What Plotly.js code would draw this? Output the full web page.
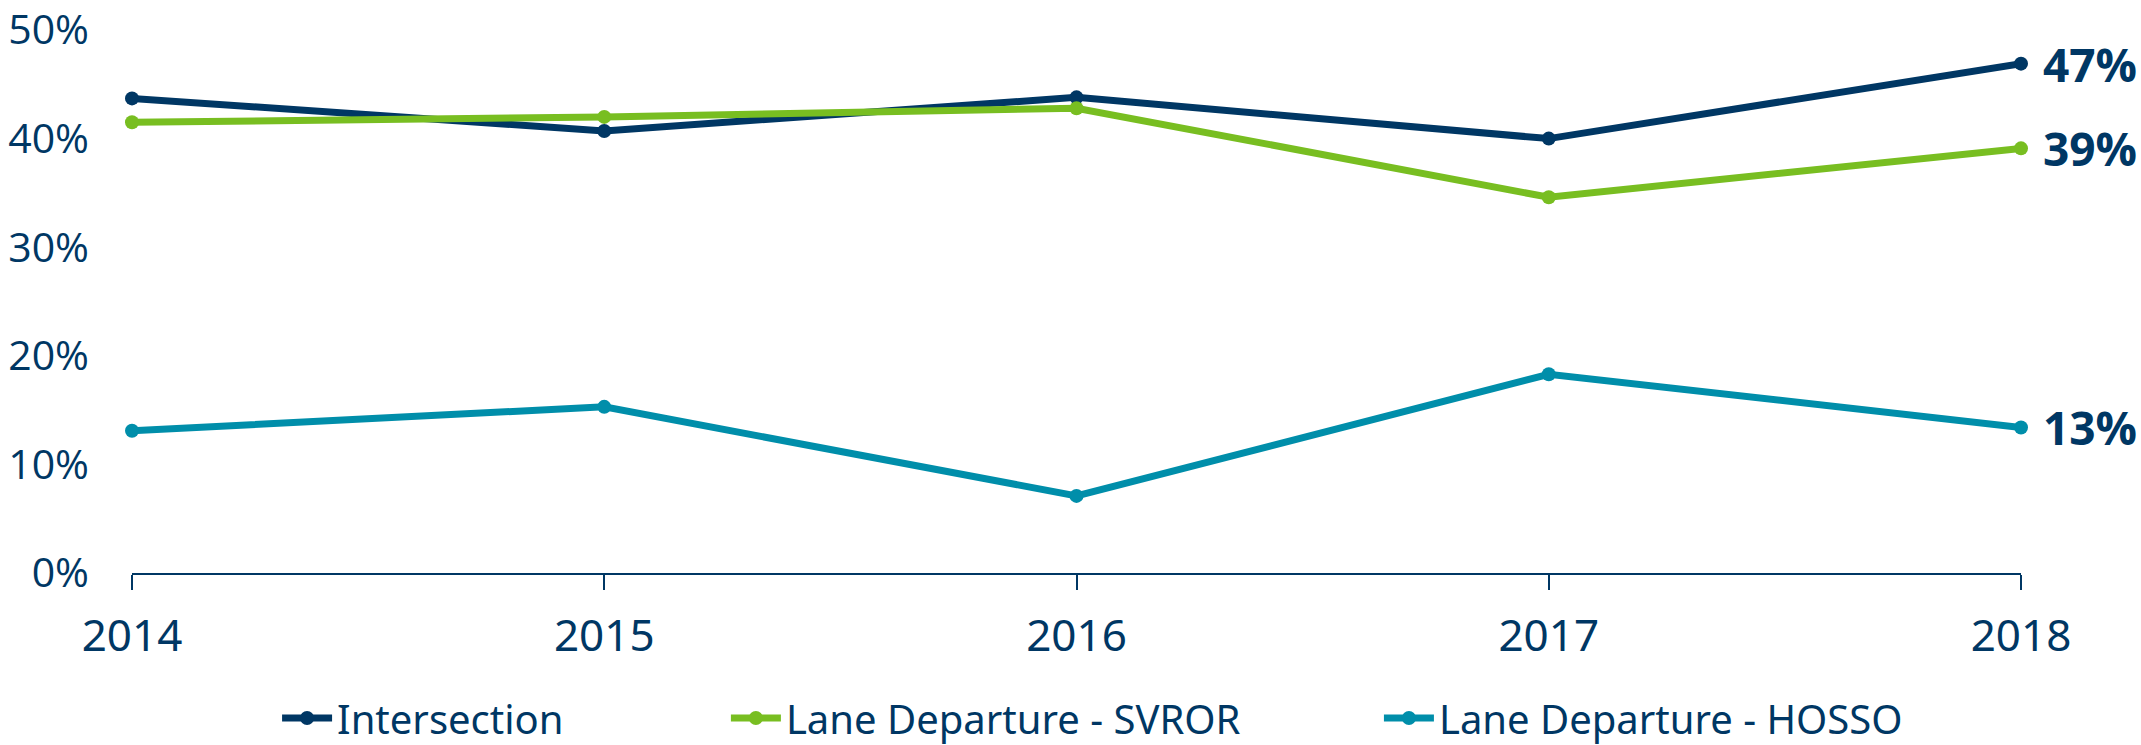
<!DOCTYPE html>
<html>
<head>
<meta charset="utf-8">
<script src="https://cdn.plot.ly/plotly-3.0.1.min.js"></script>
<style>
html,body{margin:0;padding:0;background:#fff;}
#chart{width:2141px;height:745px;}
</style>
</head>
<body>
<div id="chart"></div>
<script>
const years = [2014, 2015, 2016, 2017, 2018];
const seriesNames = ["Intersection", "Lane Departure - SVROR", "Lane Departure - HOSSO"];
const intersection = [43.7, 40.7, 43.8, 40.0, 46.9];
const svror = [41.5, 42.0, 42.8, 34.6, 39.1];
const hosso = [13.1, 15.3, 7.1, 18.3, 13.4];
const yTicks = [0, 10, 20, 30, 40, 50];

const navy = "#003764";
const colors = [navy, "#78BE21", "#008EAA"];
const allSeries = [intersection, svror, hosso];
const legendIds = ["legend", "legend2", "legend3"];
const sans = "'Noto Sans', sans-serif";

const traces = allSeries.map((vals, i) => ({
  x: years,
  y: vals,
  name: seriesNames[i],
  type: "scatter",
  mode: "lines+markers",
  line: {color: colors[i], width: 7},
  marker: {color: colors[i], size: 14},
  legend: legendIds[i],
  cliponaxis: false,
  hoverinfo: "x+y"
}));

const annotations = allSeries.map((vals, i) => ({
  x: years[years.length - 1],
  y: vals[vals.length - 1],
  xref: "x", yref: "y",
  text: "<b>" + Math.round(vals[vals.length - 1]) + "%</b>",
  showarrow: false,
  xanchor: "left",
  yanchor: "middle",
  xshift: 20,
  font: {family: "'Open Sans', sans-serif", size: 46, color: navy}
}));

const legendFont = {family: sans, size: 40, color: navy};
const legendX = [0.0768, 0.3144, 0.6601];
const mkLegend = (x) => ({
  orientation: "h",
  x: x, xref: "paper", xanchor: "left",
  y: 1 - 718 / 745, yref: "container", yanchor: "middle",
  font: legendFont,
  bgcolor: "rgba(0,0,0,0)",
  itemwidth: 50
});

const layout = {
  width: 2141,
  height: 745,
  margin: {l: 132, r: 120, t: 30, b: 171.5},
  paper_bgcolor: "#ffffff",
  plot_bgcolor: "#ffffff",
  showlegend: true,
  xaxis: {
    type: "linear",
    range: [2014, 2018],
    tickvals: years,
    ticktext: years.map(String),
    showgrid: false,
    zeroline: false,
    showline: true,
    linecolor: navy,
    linewidth: 2,
    ticks: "outside",
    ticklen: 15,
    tickwidth: 2,
    tickcolor: navy,
    ticklabelstandoff: 8,
    tickfont: {family: sans, size: 44, color: navy},
    fixedrange: true
  },
  yaxis: {
    range: [0, 50],
    tickvals: yTicks,
    ticktext: yTicks.map(v => v + "%"),
    showgrid: false,
    zeroline: false,
    showline: false,
    ticks: "",
    ticklabelstandoff: 42,
    ticklabeloverflow: "allow",
    tickfont: {family: "'Open Sans', sans-serif", size: 41, color: navy},
    fixedrange: true
  },
  annotations: annotations,
  legend: mkLegend(legendX[0]),
  legend2: mkLegend(legendX[1]),
  legend3: mkLegend(legendX[2])
};

Plotly.newPlot("chart", traces, layout, {displayModeBar: false, staticPlot: true});
</script>
</body>
</html>
